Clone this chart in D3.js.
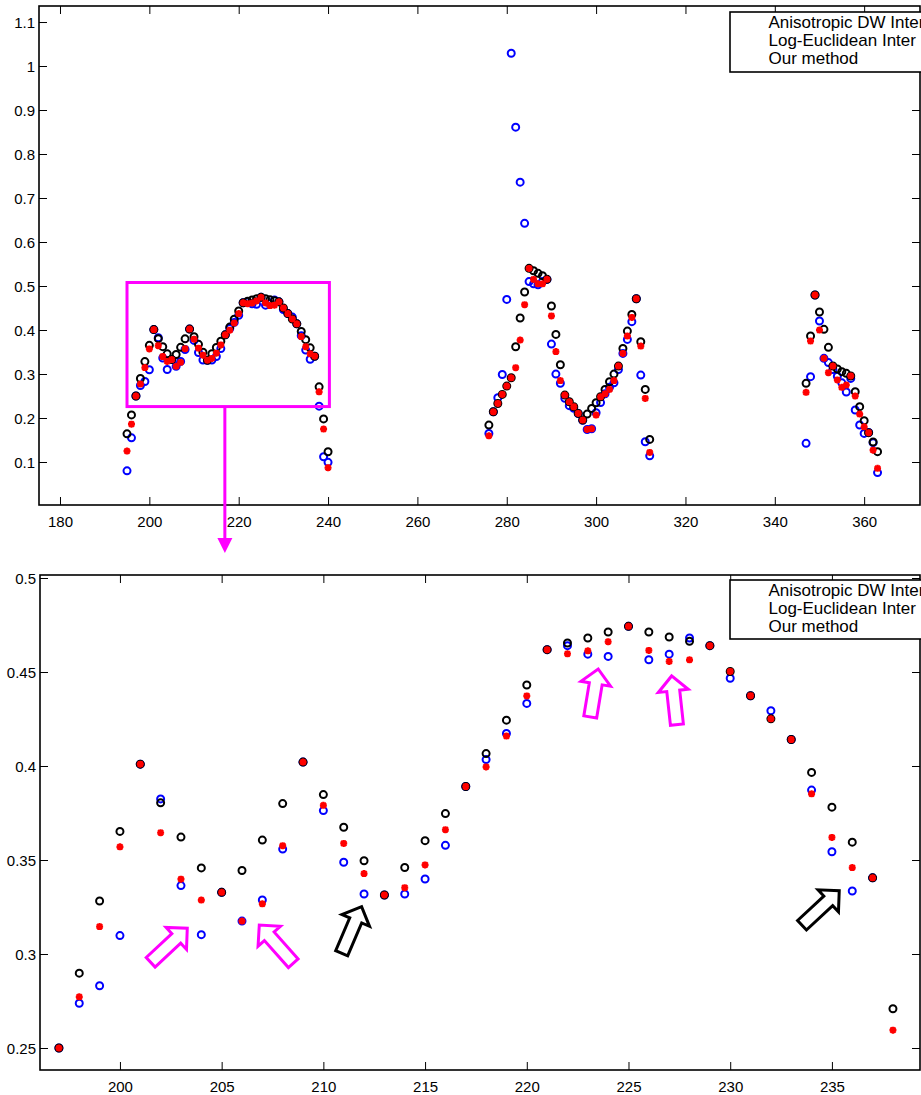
<!DOCTYPE html>
<html><head><meta charset="utf-8">
<script src="https://cdn.jsdelivr.net/npm/d3@7"></script>
<style>body{margin:0;background:#fff} svg{display:block} text{font-family:"Liberation Sans",Arial,sans-serif}</style>
</head><body><svg id="c" width="921" height="1095"></svg>
<script>
// ---------------- data ----------------
const samples = [195,196,197,198,199,200,201,202,203,204,205,206,207,208,209,210,211,212,213,214,215,216,217,218,219,220,221,222,223,224,225,226,227,228,229,230,231,232,233,234,235,236,237,238,239,240,
276,277,278,279,280,281,282,283,284,285,286,287,288,289,290,291,292,293,294,295,296,297,298,299,300,301,302,303,304,305,306,307,308,309,310,311,312,
347,348,349,350,351,352,353,354,355,356,357,358,359,360,361,362,363];

const anisoDW = [0.080,0.155,0.250,0.2738,0.2831,0.3098,0.401,0.3825,0.3364,0.3103,0.3328,0.3175,0.3287,0.3558,0.4021,0.3763,0.3488,0.3319,0.3314,0.3319,0.3399,0.3578,0.3891,0.4034,0.4173,0.4333,0.4619,0.464,0.4595,0.4583,0.4743,0.4565,0.4595,0.4681,0.464,0.4467,0.4374,0.4294,0.4141,0.3872,0.3544,0.3335,0.3405,0.227,0.112,0.0993,
0.165,0.214,0.246,0.299,0.4696,1.029,0.861,0.736,0.6425,0.51,0.505,0.503,0.51,0.515,0.368,0.2998,0.279,0.245,0.228,0.222,0.21,0.195,0.174,0.1755,0.212,0.235,0.255,0.27,0.28,0.31,0.3468,0.3787,0.419,0.4711,0.2976,0.146,0.114,
0.1425,0.294,0.4796,0.4205,0.3356,0.326,0.31,0.295,0.28,0.259,0.29,0.2182,0.184,0.165,0.167,0.144,0.076];

const logEuclid = [0.125,0.186,0.250,0.2772,0.3146,0.357,0.401,0.3645,0.3398,0.3287,0.3328,0.3175,0.3267,0.3576,0.4021,0.3791,0.3588,0.3428,0.3314,0.3353,0.3474,0.3661,0.3891,0.3995,0.4159,0.4373,0.4619,0.4597,0.4613,0.4661,0.4743,0.4615,0.4556,0.4565,0.464,0.4503,0.4374,0.4251,0.4141,0.3852,0.362,0.346,0.3405,0.2595,0.175,0.087,
0.1596,0.2142,0.2331,0.2536,0.2725,0.2915,0.3143,0.3772,0.4575,0.54,0.515,0.505,0.505,0.5151,0.432,0.351,0.285,0.2521,0.2369,0.2256,0.2104,0.1952,0.174,0.1755,0.2066,0.2483,0.255,0.265,0.285,0.318,0.3468,0.3863,0.4287,0.4711,0.3635,0.2445,0.1217,
0.2584,0.375,0.4796,0.40,0.3356,0.303,0.318,0.2864,0.2697,0.275,0.2955,0.25,0.209,0.18,0.1667,0.127,0.0856];

const ourMethod = [0.164,0.207,0.250,0.2898,0.3282,0.3652,0.401,0.3804,0.3622,0.3458,0.3328,0.3444,0.3606,0.38,0.4021,0.3848,0.3674,0.3496,0.3314,0.346,0.3603,0.3747,0.3891,0.4066,0.4244,0.4431,0.4619,0.4654,0.4681,0.4713,0.4743,0.4713,0.4686,0.4663,0.464,0.4503,0.4374,0.4251,0.4141,0.3966,0.3781,0.3595,0.3405,0.2709,0.198,0.1234,
0.1839,0.2142,0.2331,0.2536,0.2725,0.2915,0.362,0.4272,0.4863,0.5401,0.5348,0.5288,0.5235,0.5151,0.4545,0.39,0.3211,0.2521,0.2369,0.2256,0.2104,0.1952,0.2089,0.2218,0.2346,0.2483,0.265,0.2824,0.2999,0.318,0.3582,0.3976,0.4355,0.4711,0.3734,0.265,0.1513,
0.2788,0.3864,0.4796,0.4409,0.4016,0.3606,0.3182,0.3114,0.3053,0.3015,0.2955,0.2599,0.2258,0.194,0.1667,0.1455,0.1235];

const seriesNames = ["Anisotropic DW Inter","Log-Euclidean Inter","Our method"];
const topXTicks = [180,200,220,240,260,280,300,320,340,360];
const topYTicks = [0.1,0.2,0.3,0.4,0.5,0.6,0.7,0.8,0.9,1,1.1];
const botXTicks = [200,205,210,215,220,225,230,235];
const botYTicks = [0.25,0.3,0.35,0.4,0.45,0.5];

// zoom region (data coords) shown in top panel
const zoomBoxX = [195, 240.3];
const zoomBoxY = [0.226, 0.508];
const zoomLinkX = 216.9;
// annotation arrows in bottom panel
const arrowTipX  = [203.31, 206.85, 211.88, 235.36, 223.51, 227.12];
const arrowTipY  = [0.3137, 0.3154, 0.3252, 0.3337, 0.4516, 0.4479];
const arrowTailX = [201.51, 208.52, 210.90, 233.53, 223.12, 227.38];
const arrowTailY = [0.2956, 0.2951, 0.3004, 0.3153, 0.4261, 0.4220];
const arrowColor = ["#ff00ff","#ff00ff","#000000","#000000","#ff00ff","#ff00ff"];

// ---------------- drawing ----------------
const svg = d3.select("#c");
const fmt = d => String(+d.toFixed(2));

function panel(id, frame, xDom, yDom, xTicks, yTicks) {
  const x = d3.scaleLinear().domain(xDom).range([frame.l, frame.r]);
  const y = d3.scaleLinear().domain(yDom).range([frame.b, frame.t]);
  const g = svg.append("g");
  svg.append("clipPath").attr("id", id).append("rect")
    .attr("x", frame.l).attr("y", frame.t).attr("width", frame.r - frame.l).attr("height", frame.b - frame.t);
  const tl = 8;
  const ax = [
    [d3.axisBottom(x).tickValues(xTicks).tickFormat(fmt).tickSizeInner(-tl).tickSizeOuter(0), frame.b, true],
    [d3.axisTop(x).tickValues(xTicks).tickFormat("").tickSizeInner(-tl).tickSizeOuter(0), frame.t, false]
  ];
  ax.forEach(([a, yy, lab]) => {
    const ag = g.append("g").attr("transform", `translate(0,${yy})`).call(a);
    ag.select(".domain").remove();
    ag.selectAll("line").attr("stroke", "#000").attr("stroke-width", 1);
    if (lab) ag.selectAll("text").attr("font-size", 15).attr("fill", "#000").attr("y", 11).attr("dy", "0.71em");
  });
  const ay = [
    [d3.axisLeft(y).tickValues(yTicks).tickFormat(fmt).tickSizeInner(-tl).tickSizeOuter(0), frame.l, true],
    [d3.axisRight(y).tickValues(yTicks).tickFormat("").tickSizeInner(-tl).tickSizeOuter(0), frame.r, false]
  ];
  ay.forEach(([a, xx, lab]) => {
    const ag = g.append("g").attr("transform", `translate(${xx},0)`).call(a);
    ag.select(".domain").remove();
    ag.selectAll("line").attr("stroke", "#000").attr("stroke-width", 1);
    if (lab) ag.selectAll("text").attr("font-size", 15).attr("fill", "#000").attr("x", -4).attr("dy", "0.35em");
  });
  g.append("rect").attr("x", frame.l).attr("y", frame.t)
    .attr("width", frame.r - frame.l).attr("height", frame.b - frame.t)
    .attr("fill", "none").attr("stroke", "#000").attr("stroke-width", 1.6);

  const pts = svg.append("g").attr("clip-path", `url(#${id})`);
  const circ = (vals, col) => pts.append("g").selectAll("circle")
    .data(samples.map((s, i) => [s, vals[i]]).filter(d => d[1] != null))
    .join("circle").attr("cx", d => x(d[0])).attr("cy", d => y(d[1])).attr("r", 3.5)
    .attr("fill", "none").attr("stroke", col).attr("stroke-width", 2);
  circ(anisoDW, "#0000ff");
  circ(ourMethod, "#000000");
  const a = 3.5, b = 2.6;
  pts.append("g").selectAll("path")
    .data(samples.map((s, i) => [s, logEuclid[i]]).filter(d => d[1] != null))
    .join("path")
    .attr("d", d => {
      const cx = x(d[0]), cy = y(d[1]);
      return `M${cx - a},${cy}L${cx + a},${cy}M${cx},${cy - a}L${cx},${cy + a}` +
        `M${cx - b},${cy - b}L${cx + b},${cy + b}M${cx - b},${cy + b}L${cx + b},${cy - b}`;
    })
    .attr("stroke", "#ff0000").attr("stroke-width", 2.2).attr("fill", "none");

  return {x, y, g};
}

function legend(x0, y0, h) {
  const lg = svg.append("g");
  lg.append("rect").attr("x", x0).attr("y", y0).attr("width", 220).attr("height", h)
    .attr("fill", "#fff").attr("stroke", "#000").attr("stroke-width", 1.6);
  seriesNames.forEach((n, i) => {
    lg.append("text").attr("x", x0 + 38.5).attr("y", y0 + 15.5 + i * 18.4)
      .attr("font-size", 17).attr("fill", "#000").text(n);
  });
}

// top panel
const topFrame = {l: 39, r: 920, t: 6, b: 505};
const T = panel("clipTop", topFrame, [175.3, 372.5], [0.0023, 1.1364], topXTicks, topYTicks);
legend(730, 12, 60);

svg.append("rect")
  .attr("x", T.x(zoomBoxX[0])).attr("y", T.y(zoomBoxY[1]))
  .attr("width", T.x(zoomBoxX[1]) - T.x(zoomBoxX[0]))
  .attr("height", T.y(zoomBoxY[0]) - T.y(zoomBoxY[1]))
  .attr("fill", "none").attr("stroke", "#ff00ff").attr("stroke-width", 3);
const lx = T.x(zoomLinkX), ly0 = T.y(zoomBoxY[0]);
svg.append("line").attr("x1", lx).attr("x2", lx).attr("y1", ly0).attr("y2", 540)
  .attr("stroke", "#ff00ff").attr("stroke-width", 3);
svg.append("path").attr("d", `M${lx - 7.5},538L${lx + 7.5},538L${lx},553Z`).attr("fill", "#ff00ff");

// bottom panel
const botFrame = {l: 40, r: 920, t: 575, b: 1070};
const B = panel("clipBot", botFrame, [196.07, 239.33], [0.2383, 0.5016], botXTicks, botYTicks);
legend(730, 580, 59);

arrowTipX.forEach((tx0, i) => {
  const T1 = [B.x(tx0), B.y(arrowTipY[i])], S = [B.x(arrowTailX[i]), B.y(arrowTailY[i])];
  const dx = T1[0] - S[0], dy = T1[1] - S[1], L = Math.hypot(dx, dy);
  const u = [dx / L, dy / L], n = [-u[1], u[0]];
  const w = 6.5, H = 15, h = 15;
  const p = (s, t) => [S[0] + u[0] * s + n[0] * t, S[1] + u[1] * s + n[1] * t];
  const poly = [p(0, w), p(L - h, w), p(L - h, H), p(L, 0), p(L - h, -H), p(L - h, -w), p(0, -w)];
  svg.append("path").attr("d", "M" + poly.map(q => q.join(",")).join("L") + "Z")
    .attr("fill", "#fff").attr("stroke", arrowColor[i]).attr("stroke-width", 3).attr("stroke-linejoin", "miter");
});
</script></body></html>
